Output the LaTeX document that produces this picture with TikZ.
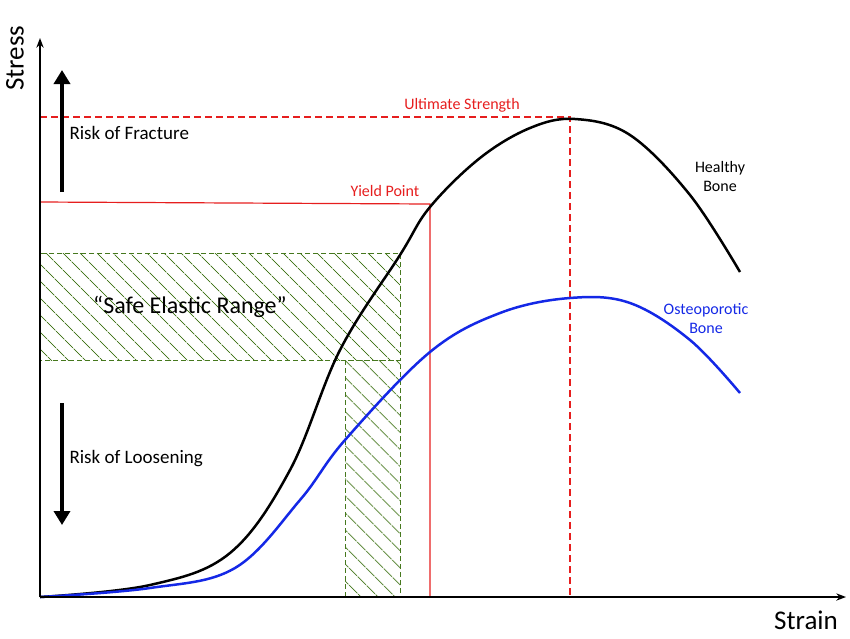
\documentclass[tikz,border=0pt]{standalone}
\usepackage{fontspec}
\setmainfont{Carlito}
\usetikzlibrary{arrows.meta,patterns.meta}
\definecolor{limitRed}{RGB}{230,30,30}
\definecolor{safeGreen}{RGB}{70,120,30}
\definecolor{osteoBlue}{RGB}{20,40,230}
\tikzset{
    >=Stealth,
    limit/.style={draw=limitRed,line width=1.2pt},
    longdash/.style={dash pattern=on 7pt off 4pt},
    safe/.style={draw=safeGreen,dash pattern=on 5pt off 3pt,line width=1pt,pattern={Lines[angle=-45,distance=13pt,line width=0.9pt]},pattern color=safeGreen},
    risk/.style={->,line width=4.5pt,>={Triangle[length=14pt,width=16pt]}},
    lbl/.style={font=\fontsize{19}{22}\selectfont},
    small/.style={font=\fontsize{16}{19}\selectfont}
}
\begin{document}
\begin{tikzpicture}[x=1pt,y=-1pt]
  \useasboundingbox (0,0) rectangle (850,638);
  % safe range
  \path[safe] (40,253) rectangle (400,360);
  \path[safe] (345,360) rectangle (400,597);
  \node[font=\fontsize{24}{28}\selectfont] (safe) at (190,307) {“Safe Elastic Range”};
  % limits
  \coordinate (ultL) at (40,117);
  \coordinate (ult) at (570,117);
  \coordinate (ultB) at (570,597);
  \draw[limit,longdash] (ultL) -- (ult) -- (ultB);
  \node[limitRed,small] (ultLbl) at (462,105) {Ultimate Strength};
  \coordinate (yldL) at (40,202);
  \coordinate (yld) at (430,204);
  \coordinate (yldB) at (430,597);
  \draw[limit] (yldL) -- (yld) -- (yldB);
  \node[limitRed,small] (yldLbl) at (385,191) {Yield Point};
  % curves
  \draw[line width=2.5pt] plot[smooth,tension=0.6] coordinates {(40,597) (150,585) (230,553) (290,470) (340,350) (400,255) (430,207) (480,158) (530,128) (575,119) (630,135) (690,195) (740,272)};
  \draw[osteoBlue,line width=2.5pt] plot[smooth,tension=0.6] coordinates {(40,597) (150,588) (235,568) (300,500) (345,440) (430,352) (500,313) (570,298) (630,303) (690,340) (740,393)};
  \node[small,align=center] (healthy) at (720,176) {Healthy\\Bone};
  \node[osteoBlue,small,align=center] (osteo) at (706,319) {Osteoporotic\\Bone};
  % risks
  \coordinate (upS) at (62,192);
  \coordinate (upE) at (62,70);
  \draw[risk] (upS) -- (upE);
  \node[lbl,anchor=west] (fract) at (66,133) {Risk of Fracture};
  \coordinate (dnS) at (62,403);
  \coordinate (dnE) at (62,525);
  \draw[risk] (dnS) -- (dnE);
  \node[lbl,anchor=west] (loose) at (66,459) {Risk of Loosening};
  % axes
  \coordinate (o) at (40,597);
  \draw[line width=1.5pt,->] (o) -- (40,38);
  \draw[line width=1.5pt,->] (o) -- (846,597);
  \node[font=\fontsize{27}{30}\selectfont,rotate=90] (stress) at (15,58) {Stress};
  \node[font=\fontsize{27}{30}\selectfont] (strain) at (806,620) {Strain};
\end{tikzpicture}
\end{document}
